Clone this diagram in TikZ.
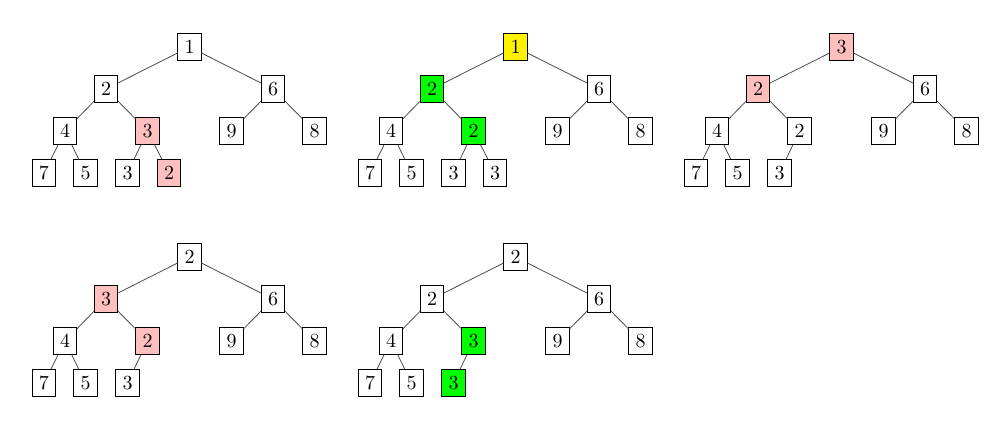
\documentclass[tikz,border=0pt]{standalone}
\begin{document}
\begin{tikzpicture}[x=0.5pt,y=-0.5pt,
  key/.style={draw=black,line width=0.4pt,fill=white,inner sep=0.3333em},
  hot/.style={key,fill=red!25},
  top/.style={key,fill=yellow},
  swap/.style={key,fill=green},
  edge/.style={draw=black!70,line width=0.4pt}]
\useasboundingbox (0,0) rectangle (1006,436);

% heap 1
\begin{scope}[shift={(189.5,47)},name prefix=A-]
  \node[key] (r) at (0,0) {1};
  \node[key] (a) at (-83.5,42) {2};
  \node[key] (b) at (83.5,42) {6};
  \node[key] (aa) at (-124.5,84) {4};
  \node[hot] (ab) at (-42,84) {3};
  \node[key] (ba) at (42,84) {9};
  \node[key] (bb) at (125,84) {8};
  \node[key] (aaa) at (-145.5,126) {7};
  \node[key] (aab) at (-104,126) {5};
  \node[key] (aba) at (-62,126) {3};
  \node[hot] (abb) at (-20.5,126) {2};
  \draw[edge] (r)--(a) (r)--(b) (a)--(aa) (a)--(ab) (b)--(ba) (b)--(bb)
    (aa)--(aaa) (aa)--(aab) (ab)--(aba) (ab)--(abb);
\end{scope}

% heap 2
\begin{scope}[shift={(515.5,47)},name prefix=B-]
  \node[top] (r) at (0,0) {1};
  \node[swap] (a) at (-83.5,42) {2};
  \node[key] (b) at (83.5,42) {6};
  \node[key] (aa) at (-124.5,84) {4};
  \node[swap] (ab) at (-42,84) {2};
  \node[key] (ba) at (42,84) {9};
  \node[key] (bb) at (125,84) {8};
  \node[key] (aaa) at (-145.5,126) {7};
  \node[key] (aab) at (-104,126) {5};
  \node[key] (aba) at (-62,126) {3};
  \node[key] (abb) at (-20.5,126) {3};
  \draw[edge] (r)--(a) (r)--(b) (a)--(aa) (a)--(ab) (b)--(ba) (b)--(bb)
    (aa)--(aaa) (aa)--(aab) (ab)--(aba) (ab)--(abb);
\end{scope}

% heap 3
\begin{scope}[shift={(841.5,47)},name prefix=C-]
  \node[hot] (r) at (0,0) {3};
  \node[hot] (a) at (-83.5,42) {2};
  \node[key] (b) at (83.5,42) {6};
  \node[key] (aa) at (-124.5,84) {4};
  \node[key] (ab) at (-42,84) {2};
  \node[key] (ba) at (42,84) {9};
  \node[key] (bb) at (125,84) {8};
  \node[key] (aaa) at (-145.5,126) {7};
  \node[key] (aab) at (-104,126) {5};
  \node[key] (aba) at (-62,126) {3};
  \draw[edge] (r)--(a) (r)--(b) (a)--(aa) (a)--(ab) (b)--(ba) (b)--(bb)
    (aa)--(aaa) (aa)--(aab) (ab)--(aba);
\end{scope}

% heap 4
\begin{scope}[shift={(189.5,257)},name prefix=D-]
  \node[key] (r) at (0,0) {2};
  \node[hot] (a) at (-83.5,42) {3};
  \node[key] (b) at (83.5,42) {6};
  \node[key] (aa) at (-124.5,84) {4};
  \node[hot] (ab) at (-42,84) {2};
  \node[key] (ba) at (42,84) {9};
  \node[key] (bb) at (125,84) {8};
  \node[key] (aaa) at (-145.5,126) {7};
  \node[key] (aab) at (-104,126) {5};
  \node[key] (aba) at (-62,126) {3};
  \draw[edge] (r)--(a) (r)--(b) (a)--(aa) (a)--(ab) (b)--(ba) (b)--(bb)
    (aa)--(aaa) (aa)--(aab) (ab)--(aba);
\end{scope}

% heap 5
\begin{scope}[shift={(515.5,257)},name prefix=E-]
  \node[key] (r) at (0,0) {2};
  \node[key] (a) at (-83.5,42) {2};
  \node[key] (b) at (83.5,42) {6};
  \node[key] (aa) at (-124.5,84) {4};
  \node[swap] (ab) at (-42,84) {3};
  \node[key] (ba) at (42,84) {9};
  \node[key] (bb) at (125,84) {8};
  \node[key] (aaa) at (-145.5,126) {7};
  \node[key] (aab) at (-104,126) {5};
  \node[swap] (aba) at (-62,126) {3};
  \draw[edge] (r)--(a) (r)--(b) (a)--(aa) (a)--(ab) (b)--(ba) (b)--(bb)
    (aa)--(aaa) (aa)--(aab) (ab)--(aba);
\end{scope}
\end{tikzpicture}
\end{document}
